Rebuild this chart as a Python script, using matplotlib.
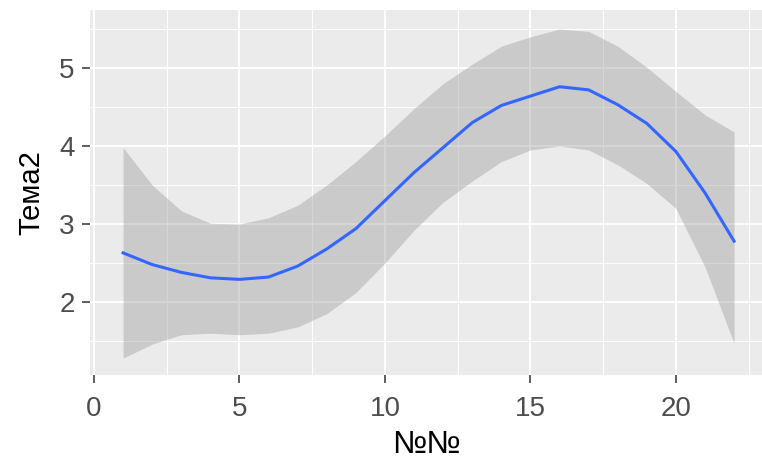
import matplotlib
matplotlib.use("Agg")
import matplotlib.pyplot as plt
from matplotlib.ticker import MultipleLocator

# smoothed curve (x = 1..22)
nums = [1, 2, 3, 4, 5, 6, 7, 8, 9, 10, 11, 12, 13, 14, 15, 16, 17, 18, 19, 20, 21, 22]
fit = [2.63, 2.48, 2.38, 2.31, 2.29, 2.32, 2.46, 2.68, 2.94, 3.30, 3.66,
       3.98, 4.30, 4.52, 4.64, 4.76, 4.72, 4.53, 4.29, 3.93, 3.40, 2.78]
upper = [3.98, 3.50, 3.17, 3.01, 3.00, 3.08, 3.24, 3.50, 3.80, 4.13, 4.48,
         4.80, 5.05, 5.28, 5.40, 5.50, 5.47, 5.28, 5.01, 4.70, 4.40, 4.18]
lower = [1.28, 1.46, 1.58, 1.60, 1.58, 1.60, 1.68, 1.85, 2.12, 2.50, 2.92,
         3.28, 3.55, 3.80, 3.95, 4.00, 3.95, 3.76, 3.52, 3.20, 2.45, 1.47]

plt.rcParams['font.family'] = ['Liberation Sans', 'DejaVu Sans']

fig = plt.figure(figsize=(7.62, 4.67), dpi=100)
ax = fig.add_axes([90 / 762, (467 - 375) / 467, (762 - 90) / 762, (375 - 10) / 467])
ax.set_facecolor('#EBEBEB')

ax.fill_between(nums, lower, upper, color='#999999', alpha=0.4, linewidth=0, zorder=2)
ax.plot(nums, fit, color='#3366FF', linewidth=2.2, zorder=3)

ax.set_xlim(-0.137, 22.96)
ax.set_ylim(1.064, 5.744)
ax.xaxis.set_major_locator(MultipleLocator(5))
ax.xaxis.set_minor_locator(MultipleLocator(2.5))
ax.yaxis.set_major_locator(MultipleLocator(1))
ax.yaxis.set_minor_locator(MultipleLocator(0.5))

ax.grid(which='major', color='white', linewidth=1.4, zorder=1)
ax.grid(which='minor', color='white', linewidth=0.7, zorder=1)
ax.set_axisbelow(True)
for s in ax.spines.values():
    s.set_visible(False)

ax.tick_params(which='major', length=6, width=1.1, color='#333333',
               labelsize=20, labelcolor='#4D4D4D', pad=5)
ax.tick_params(axis='x', which='major', pad=9)
ax.tick_params(which='minor', length=0)

ax.set_xlabel('№№', fontsize=23, color='black', labelpad=6)
ax.set_ylabel('Тема2', fontsize=21, color='black', labelpad=10)

fig.savefig('out.png', dpi=100)
